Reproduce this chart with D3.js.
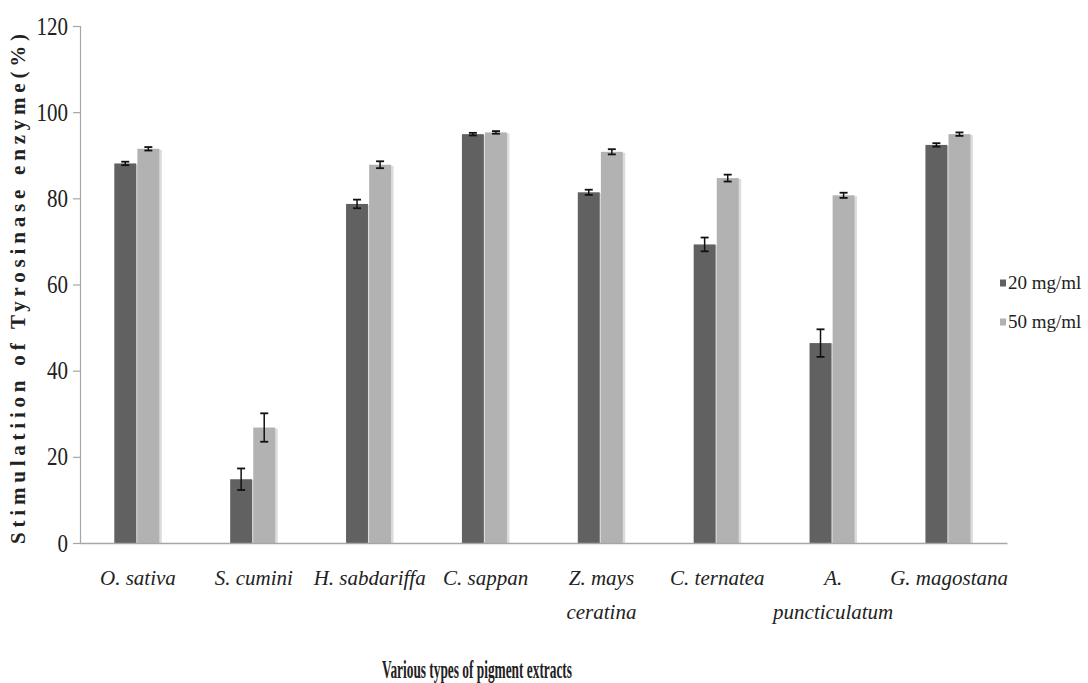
<!DOCTYPE html>
<html>
<head>
<meta charset="utf-8">
<script src="https://cdn.jsdelivr.net/npm/d3@7"></script>
<style>
  html, body { margin: 0; padding: 0; background: #fff; }
  svg { display: block; }
  svg text { font-family: "Liberation Serif", "DejaVu Serif", serif; }
</style>
</head>
<body>
<svg id="chart" width="1088" height="683"></svg>
<script>
// ---- data ----
const categories = ["O. sativa", "S. cumini", "H. sabdariffa", "C. sappan", "Z. mays ceratina", "C. ternatea", "A. puncticulatum", "G. magostana"];
const categoryLines = [["O. sativa"], ["S. cumini"], ["H. sabdariffa"], ["C. sappan"], ["Z. mays", "ceratina"], ["C. ternatea"], ["A.", "puncticulatum"], ["G. magostana"]];
const seriesNames = ["20 mg/ml", "50 mg/ml"];
const values20 = [88.1, 14.8, 78.7, 94.9, 81.4, 69.3, 46.4, 92.4];
const errors20 = [0.4, 2.5, 1.0, 0.3, 0.6, 1.6, 3.2, 0.4];
const values50 = [91.5, 26.8, 87.8, 95.3, 90.8, 84.7, 80.7, 94.9];
const errors50 = [0.4, 3.3, 0.8, 0.3, 0.6, 0.8, 0.6, 0.4];
const yTicks = [0, 20, 40, 60, 80, 100, 120];
const yTitle = "Stimulatiion  of  Tyrosinase  enzyme(%)";
const xTitle = "Various types of pigment extracts";

const colors = ["#616161", "#b2b2b2"];
const FONT = '"Liberation Serif", "DejaVu Serif", serif';
const svg = d3.select("#chart");

const x0 = d3.scaleBand().domain(categories).range([80, 1007]).paddingInner(0).paddingOuter(0);
const x1 = d3.scaleBand().domain(seriesNames).range([34.3, 79.3]).paddingInner(0.05);
const y = d3.scaleLinear().domain([0, 120]).range([543, 26]);

const rows = categories.map((c, i) => ({
  cat: c,
  vals: [
    { s: seriesNames[0], v: values20[i], e: errors20[i], col: colors[0] },
    { s: seriesNames[1], v: values50[i], e: errors50[i], col: colors[1] }
  ]
}));

// y axis
const yAxis = d3.axisLeft(y).tickValues(yTicks).tickSize(7).tickPadding(5).tickFormat(d3.format("d"));
const gy = svg.append("g").attr("transform", "translate(80,0)").call(yAxis);
gy.attr("font-family", null).attr("font-size", null);
gy.select(".domain").attr("stroke", "#a6a6a6").attr("stroke-width", 1.2);
gy.selectAll(".tick line").attr("stroke", "#a6a6a6").attr("stroke-width", 1.2);
gy.selectAll(".tick text")
  .style("font-family", FONT)
  .style("font-size", "25px")
  .attr("textLength", d => String(d).length * 10.5)
  .attr("lengthAdjust", "spacingAndGlyphs")
  .attr("fill", "#222");

// bars
const groups = svg.append("g").selectAll("g").data(rows).join("g")
  .attr("transform", d => `translate(${x0(d.cat)},0)`);

groups.selectAll("rect.shadow").data(d => d.vals).join("rect")
  .attr("class", "shadow")
  .attr("x", d => x1(d.s) + 1)
  .attr("y", d => y(d.v) + 1)
  .attr("width", x1.bandwidth() + 1.5)
  .attr("height", d => y(0) - y(d.v) - 1)
  .attr("fill", "#dcdcdc");

groups.selectAll("rect.bar").data(d => d.vals).join("rect")
  .attr("class", "bar")
  .attr("x", d => x1(d.s))
  .attr("y", d => y(d.v))
  .attr("width", x1.bandwidth())
  .attr("height", d => y(0) - y(d.v))
  .attr("fill", d => d.col);

// error bars
const eb = groups.selectAll("g.err").data(d => d.vals).join("g").attr("class", "err")
  .attr("transform", d => `translate(${x1(d.s) + x1.bandwidth() / 2},0)`);
eb.append("line").attr("x1", 0).attr("x2", 0)
  .attr("y1", d => y(d.v + d.e)).attr("y2", d => y(d.v - d.e))
  .attr("stroke", "#111").attr("stroke-width", 1.5);
eb.append("line").attr("x1", -4).attr("x2", 4)
  .attr("y1", d => y(d.v + d.e)).attr("y2", d => y(d.v + d.e))
  .attr("stroke", "#111").attr("stroke-width", 1.8);
eb.append("line").attr("x1", -4).attr("x2", 4)
  .attr("y1", d => y(d.v - d.e)).attr("y2", d => y(d.v - d.e))
  .attr("stroke", "#111").attr("stroke-width", 1.8);

// x axis
const xAxis = d3.axisBottom(x0).tickSize(0).tickFormat("");
const gx = svg.append("g").attr("transform", `translate(0,${y(0)})`).call(xAxis);
gx.select(".domain").attr("stroke", "#a6a6a6").attr("stroke-width", 1.5);

// x tick labels (multi-line, italic)
const xl = svg.append("g").selectAll("text").data(categories).join("text")
  .attr("x", d => x0(d) + x0.bandwidth() / 2)
  .attr("y", 585)
  .attr("text-anchor", "middle")
  .style("font-family", FONT)
  .style("font-style", "italic")
  .style("font-size", "21px")
  .attr("fill", "#222");
xl.each(function (d, i) {
  const t = d3.select(this);
  categoryLines[i].forEach((ln, k) => {
    t.append("tspan").attr("x", x0(d) + x0.bandwidth() / 2).attr("dy", k === 0 ? 0 : 34).text(ln);
  });
});

// axis titles
svg.append("text")
  .attr("transform", "translate(25,289) rotate(-90)")
  .attr("text-anchor", "middle")
  .style("font-family", FONT)
  .style("font-weight", "bold")
  .style("font-size", "21px")
  .attr("textLength", 510)
  .attr("lengthAdjust", "spacing")
  .attr("fill", "#222")
  .text(yTitle);

svg.append("text")
  .attr("x", 477)
  .attr("y", 678)
  .attr("text-anchor", "middle")
  .style("font-family", FONT)
  .style("font-weight", "bold")
  .style("font-size", "25px")
  .attr("textLength", 190)
  .attr("lengthAdjust", "spacingAndGlyphs")
  .attr("fill", "#222")
  .text(xTitle);

// legend
const lg = svg.append("g").selectAll("g").data(seriesNames).join("g")
  .attr("transform", (d, i) => `translate(1000,${283 + i * 39})`);
lg.append("rect").attr("x", 0).attr("y", -3.5).attr("width", 6).attr("height", 7)
  .attr("fill", (d, i) => colors[i]);
lg.append("text").attr("x", 8).attr("y", 6)
  .style("font-family", FONT)
  .style("font-size", "19px")
  .attr("fill", "#222")
  .text(d => d);
</script>
</body>
</html>
